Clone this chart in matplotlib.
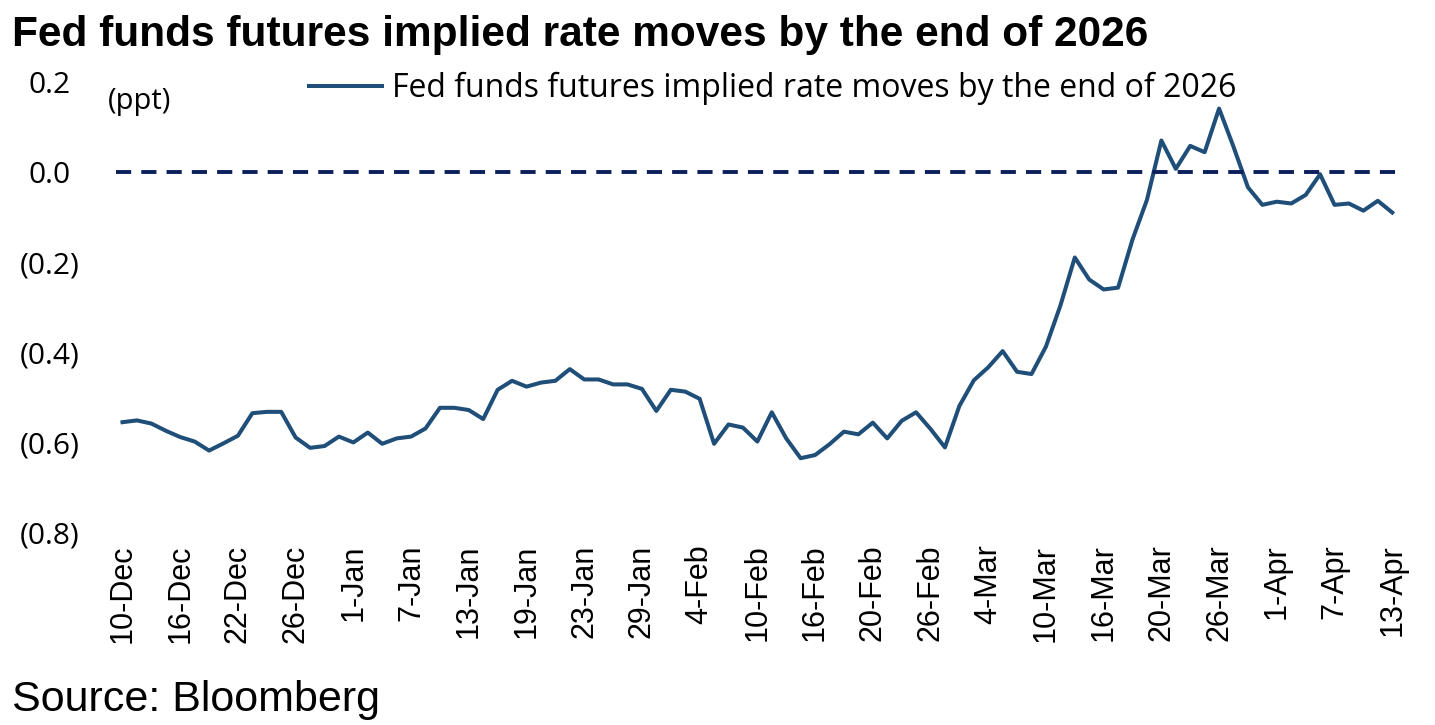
import matplotlib
matplotlib.use('Agg')
import matplotlib.pyplot as plt
from matplotlib.ticker import FuncFormatter

# 每个交易日的隐含利率变动 (ppt)，10-Dec 至 13-Apr
rate_moves = [
    -0.556, -0.552, -0.559, -0.575, -0.589, -0.599, -0.619, -0.603, -0.586, -0.536,
    -0.533, -0.533, -0.590, -0.613, -0.609, -0.588, -0.601, -0.579, -0.604, -0.592,
    -0.588, -0.570, -0.524, -0.524, -0.529, -0.549, -0.484, -0.464, -0.477, -0.468,
    -0.464, -0.438, -0.461, -0.461, -0.472, -0.472, -0.482, -0.531, -0.484, -0.488,
    -0.504, -0.604, -0.561, -0.568, -0.599, -0.534, -0.592, -0.636, -0.629, -0.605,
    -0.577, -0.583, -0.557, -0.592, -0.553, -0.534, -0.571, -0.612, -0.520, -0.463,
    -0.434, -0.398, -0.444, -0.449, -0.388, -0.297, -0.190, -0.239, -0.261, -0.257,
    -0.150, -0.062, 0.070, 0.007, 0.058, 0.044, 0.141, 0.056, -0.034, -0.073,
    -0.066, -0.070, -0.051, -0.005, -0.073, -0.070, -0.086, -0.064, -0.090,
]

# x轴刻度标签，每4个交易日一个
tick_labels = ['10-Dec', '16-Dec', '22-Dec', '26-Dec', '1-Jan', '7-Jan', '13-Jan',
               '19-Jan', '23-Jan', '29-Jan', '4-Feb', '10-Feb', '16-Feb', '20-Feb',
               '26-Feb', '4-Mar', '10-Mar', '16-Mar', '20-Mar', '26-Mar', '1-Apr',
               '7-Apr', '13-Apr']
tick_step = 4

y_ticks = [0.2, 0.0, -0.2, -0.4, -0.6, -0.8]

line_color = '#1f4e79'
zero_color = '#0b1f5a'

fig = plt.figure(figsize=(14.35, 7.25), dpi=100)
ax = fig.add_axes([116 / 1435, 1 - 532 / 725, (1398 - 116) / 1435, (532 - 82) / 725])

x = list(range(len(rate_moves)))
ax.plot(x, rate_moves, color=line_color, lw=2.9,
        label='Fed funds futures implied rate moves by the end of 2026')
ax.axhline(0, color=zero_color, lw=2.8, ls=(0, (3.9, 2.6)))

ax.set_xlim(-0.45, len(rate_moves) - 1 + 0.4)
ax.set_ylim(-0.8, 0.2)
ax.set_yticks(y_ticks)


def fmt(v, pos):
    if v < -1e-9:
        return f'({abs(v):.1f})'
    return f'{v:.1f}'


ax.yaxis.set_major_formatter(FuncFormatter(fmt))
ax.set_xticks(x[::tick_step])
ax.set_xticklabels(tick_labels, rotation=90, fontsize=22, family='Liberation Sans')
ax.tick_params(axis='x', length=0, pad=9)
ax.tick_params(axis='y', length=0, pad=48, labelsize=21.5)
for lab in ax.get_yticklabels():
    lab.set_horizontalalignment('center')
    lab.set_family('Open Sans')

for s in ax.spines.values():
    s.set_visible(False)

ax.text(108 / 1435, 1 - 102 / 725, '(ppt)', transform=fig.transFigure, fontsize=21,
        family='Open Sans', ha='left', va='center')

leg = ax.legend(loc='upper left', bbox_to_anchor=(296 / 1435, 1 - 59 / 725),
                bbox_transform=fig.transFigure, frameon=False,
                prop={'family': 'Open Sans', 'size': 23},
                handlelength=2.3, handletextpad=0.3, borderaxespad=0)

fig.text(12 / 1435, 1 - 35 / 725, 'Fed funds futures implied rate moves by the end of 2026',
         fontsize=30.5, fontweight='bold', family='Liberation Sans', ha='left', va='center')
fig.text(12 / 1435, 1 - 700 / 725, 'Source: Bloomberg', fontsize=31,
         family='Liberation Sans', ha='left', va='center')

plt.savefig('out.png', dpi=100)
